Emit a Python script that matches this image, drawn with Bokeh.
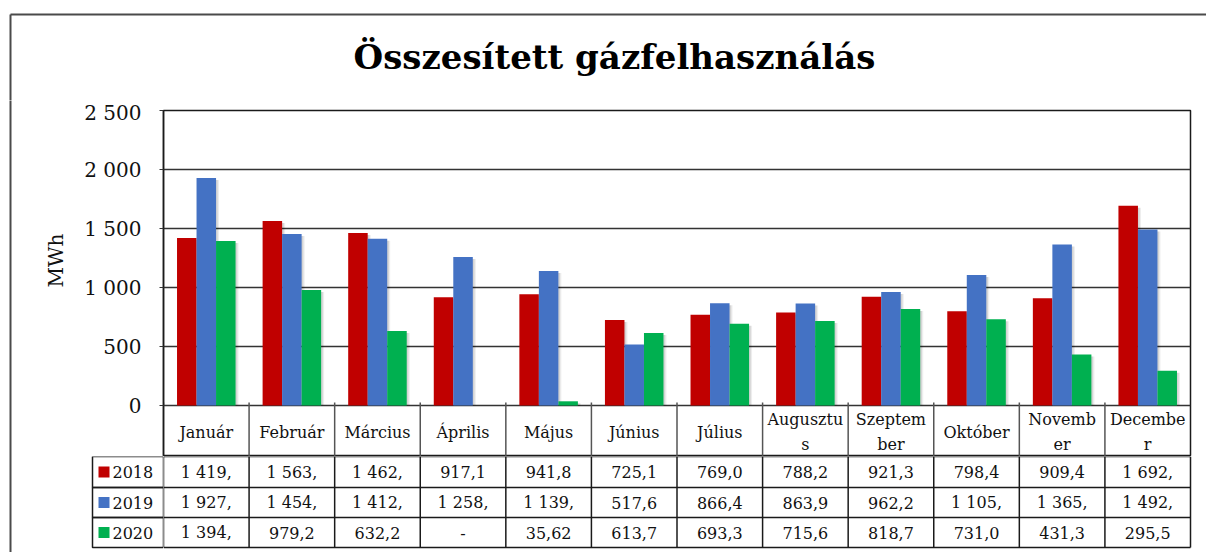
import numpy as np
from bokeh.plotting import figure
from bokeh.layouts import column, row
from bokeh.models import ColumnDataSource, FactorRange, Range1d, FixedTicker
from bokeh.core.properties import value
from bokeh.transform import dodge
from bokeh.embed import file_html
from bokeh.resources import INLINE

# ---------------- data ----------------
title_text = "Összesített gázfelhasználás"
y_label = "MWh"
months = ["Január", "Február", "Március", "Április", "Május", "Június", "Július",
          "Augusztus", "Szeptember", "Október", "November", "December"]
month_cells = ["Január", "Február", "Március", "Április", "Május", "Június", "Július",
               "Augusztu\ns", "Szeptem\nber", "Október", "Novemb\ner", "Decembe\nr"]
years = ["2018", "2019", "2020"]
v2018 = [1419.4, 1563.2, 1462.3, 917.1, 941.8, 725.1, 769.0, 788.2, 921.3, 798.4, 909.4, 1692.4]
v2019 = [1927.3, 1454.2, 1412.1, 1258.3, 1139.2, 517.6, 866.4, 863.9, 962.2, 1105.3, 1365.2, 1492.1]
v2020 = [1394.2, 979.2, 632.2, float("nan"), 35.62, 613.7, 693.3, 715.6, 818.7, 731.0, 431.3, 295.5]
t2018 = ["1 419,", "1 563,", "1 462,", "917,1", "941,8", "725,1", "769,0", "788,2", "921,3", "798,4", "909,4", "1 692,"]
t2019 = ["1 927,", "1 454,", "1 412,", "1 258,", "1 139,", "517,6", "866,4", "863,9", "962,2", "1 105,", "1 365,", "1 492,"]
t2020 = ["1 394,", "979,2", "632,2", "-", "35,62", "613,7", "693,3", "715,6", "818,7", "731,0", "431,3", "295,5"]
y_ticks = [0, 500, 1000, 1500, 2000, 2500]
y_tick_labels = ["0", "500", "1 000", "1 500", "2 000", "2 500"]

colors = ["#C00000", "#4472C4", "#00B050"]
series = [v2018, v2019, v2020]
texts = [t2018, t2019, t2020]

# ---------------- geometry (page pixels) ----------------
W, H = 1206, 552
FL, FR, FT, FB = 163, 1190, 110, 405      # plot frame
TOP_H = 100                                # title strip height
LEFT_W = 70                                # left strip width
HDR_B = 456                                # header row bottom
ROWS = [456, 487, 517, 547]                # data row edges
LEG_L = 92
SERIF = "DejaVu Serif"
LINE = "#1a1a1a"
BORDER = "#4a4a4a"
cw = (FR - FL) / 12.0


def pix_fig(x0, x1, y0, y1):
    """figure whose frame is the whole canvas; x = page x, y = -page y"""
    f = figure(width=x1 - x0, height=y1 - y0, x_range=Range1d(x0, x1),
               y_range=Range1d(-y1, -y0), output_backend="svg", toolbar_location=None,
               tools="", x_axis_location=None, y_axis_location=None, min_border=0)
    f.min_border_left = f.min_border_right = f.min_border_top = f.min_border_bottom = 0
    f.outline_line_color = None
    f.grid.visible = False
    f.background_fill_color = "white"
    f.border_fill_color = "white"
    return f


def put_text(f, xs, ys, ss, size="16px", align="center", baseline="middle",
             style="normal", angle=0.0, lh=1.2, color="#111111"):
    f.text(x=xs, y=ys, text=ss, text_font=value(SERIF), text_font_size=value(size),
           text_align=align, text_baseline=baseline, text_font_style=style,
           angle=angle, text_line_height=lh, text_color=color)


# ---------------- title strip ----------------
tf = pix_fig(0, W, 0, TOP_H)
tf.segment(x0=[10, 10], y0=[-14, -14], x1=[W + 5, 10], y1=[-14, -TOP_H - 5],
           line_color=BORDER, line_width=2)
put_text(tf, [614], [-56], [title_text], size="34px", baseline="middle",
         style="bold", color="black")

# ---------------- left strip (outer border + axis title) ----------------
lf = pix_fig(0, LEFT_W, TOP_H, H)
lf.segment(x0=[10], y0=[-TOP_H + 5], x1=[10], y1=[-H - 5], line_color=BORDER, line_width=2)
put_text(lf, [55], [-260], [y_label], size="20px", angle=np.pi / 2)

# ---------------- main plot ----------------
ppu = (FB - FT) / 2500.0           # pixels per unit
y_bottom = -(HDR_B - FB) / ppu     # data value at the header-row bottom

mf = figure(width=W - LEFT_W, height=HDR_B - (FT - 10),
            x_range=FactorRange(factors=months, range_padding=0),
            y_range=Range1d(y_bottom, 2500), output_backend="svg",
            toolbar_location=None, tools="", x_axis_location=None)
mf.min_border_left = FL - LEFT_W
mf.min_border_right = W - FR
mf.min_border_top = 10
mf.min_border_bottom = 0
mf.background_fill_color = "white"
mf.border_fill_color = "white"
mf.outline_line_color = LINE
mf.outline_line_width = 1.5
mf.xgrid.visible = False
mf.ygrid.grid_line_color = "#333333"
mf.ygrid.grid_line_width = 1.5
mf.yaxis.ticker = FixedTicker(ticks=y_ticks)
mf.yaxis.major_label_overrides = {t: l for t, l in zip(y_ticks, y_tick_labels)}
mf.yaxis.major_label_text_font = SERIF
mf.yaxis.major_label_text_font_size = "20px"
mf.yaxis.major_label_text_color = "#111111"
mf.yaxis.major_tick_out = 4
mf.yaxis.major_tick_in = 0
mf.yaxis.minor_tick_line_color = None
mf.yaxis.major_label_standoff = 18
mf.yaxis.axis_line_color = LINE
mf.yaxis.axis_line_width = 1.5
mf.yaxis.major_tick_line_color = "#333333"

bw = 0.228
offsets = [-bw, 0.0, bw]
data = {"month": months}
for y, v in zip(years, series):
    arr = np.array(v, dtype=float)
    data["v" + y] = arr
    data["s" + y] = arr - 2 / ppu
src = ColumnDataSource(data)

for y, off in zip(years, offsets):
    for k, a in [(0.035, 0.07), (0.02, 0.10)]:
        mf.vbar(x=dodge("month", off + k, range=mf.x_range), top="s" + y, width=bw,
                source=src, fill_color="black", fill_alpha=a, line_color=None)
for y, off, c in zip(years, offsets, colors):
    mf.vbar(x=dodge("month", off, range=mf.x_range), top="v" + y, width=bw,
            source=src, fill_color=c, line_color=None)

# header row of the data table (below the zero line)
bx = list(range(1, 12))
mf.segment(x0=bx, y0=[3 / ppu] * len(bx), x1=bx, y1=[y_bottom] * len(bx),
           line_color="#555555", line_width=1.5)
mf.segment(x0=[0], y0=[3 / ppu], x1=[0], y1=[0], line_color="#555555", line_width=1.5)
hdr_y = -((HDR_B + FB) / 2 + 1 - FB) / ppu
mf.text(x=months, y=[hdr_y] * 12, text=month_cells, text_font=value(SERIF),
        text_font_size=value("16px"), text_align="center", text_baseline="middle",
        text_line_height=1.35, text_color="#111111")

# ---------------- legend column of the table ----------------
gf = pix_fig(LEFT_W, FL, HDR_B, H)
gf.quad(left=[LEG_L] * 3, right=[FL] * 3, top=[-r for r in ROWS[:-1]],
        bottom=[-r for r in ROWS[1:]], fill_color=None, line_color=LINE, line_width=1.5)
cys = [-(a + b) / 2 for a, b in zip(ROWS[:-1], ROWS[1:])]
gf.quad(left=[LEG_L + 6] * 3, right=[LEG_L + 17] * 3, top=[c + 5.5 for c in cys],
        bottom=[c - 5.5 for c in cys], fill_color=colors, line_color=None)
put_text(gf, [LEG_L + 20] * 3, cys, years, align="left")

# ---------------- value rows of the table ----------------
vf = pix_fig(FL, W, HDR_B, H)
xs_edges = [FL + i * cw for i in range(13)]
vf.segment(x0=xs_edges, y0=[-ROWS[0]] * 13, x1=xs_edges, y1=[-ROWS[-1]] * 13,
           line_color=LINE, line_width=1.5)
vf.segment(x0=[FL] * 4, y0=[-r for r in ROWS], x1=[FR] * 4, y1=[-r for r in ROWS],
           line_color=LINE, line_width=1.5)
xc = [FL + (i + 0.5) * cw for i in range(12)]
for j in range(3):
    put_text(vf, xc, [cys[j]] * 12, texts[j])

layout = column(tf, row(lf, column(mf, row(gf, vf))))
open("out.html", "w").write(file_html(layout, INLINE))
